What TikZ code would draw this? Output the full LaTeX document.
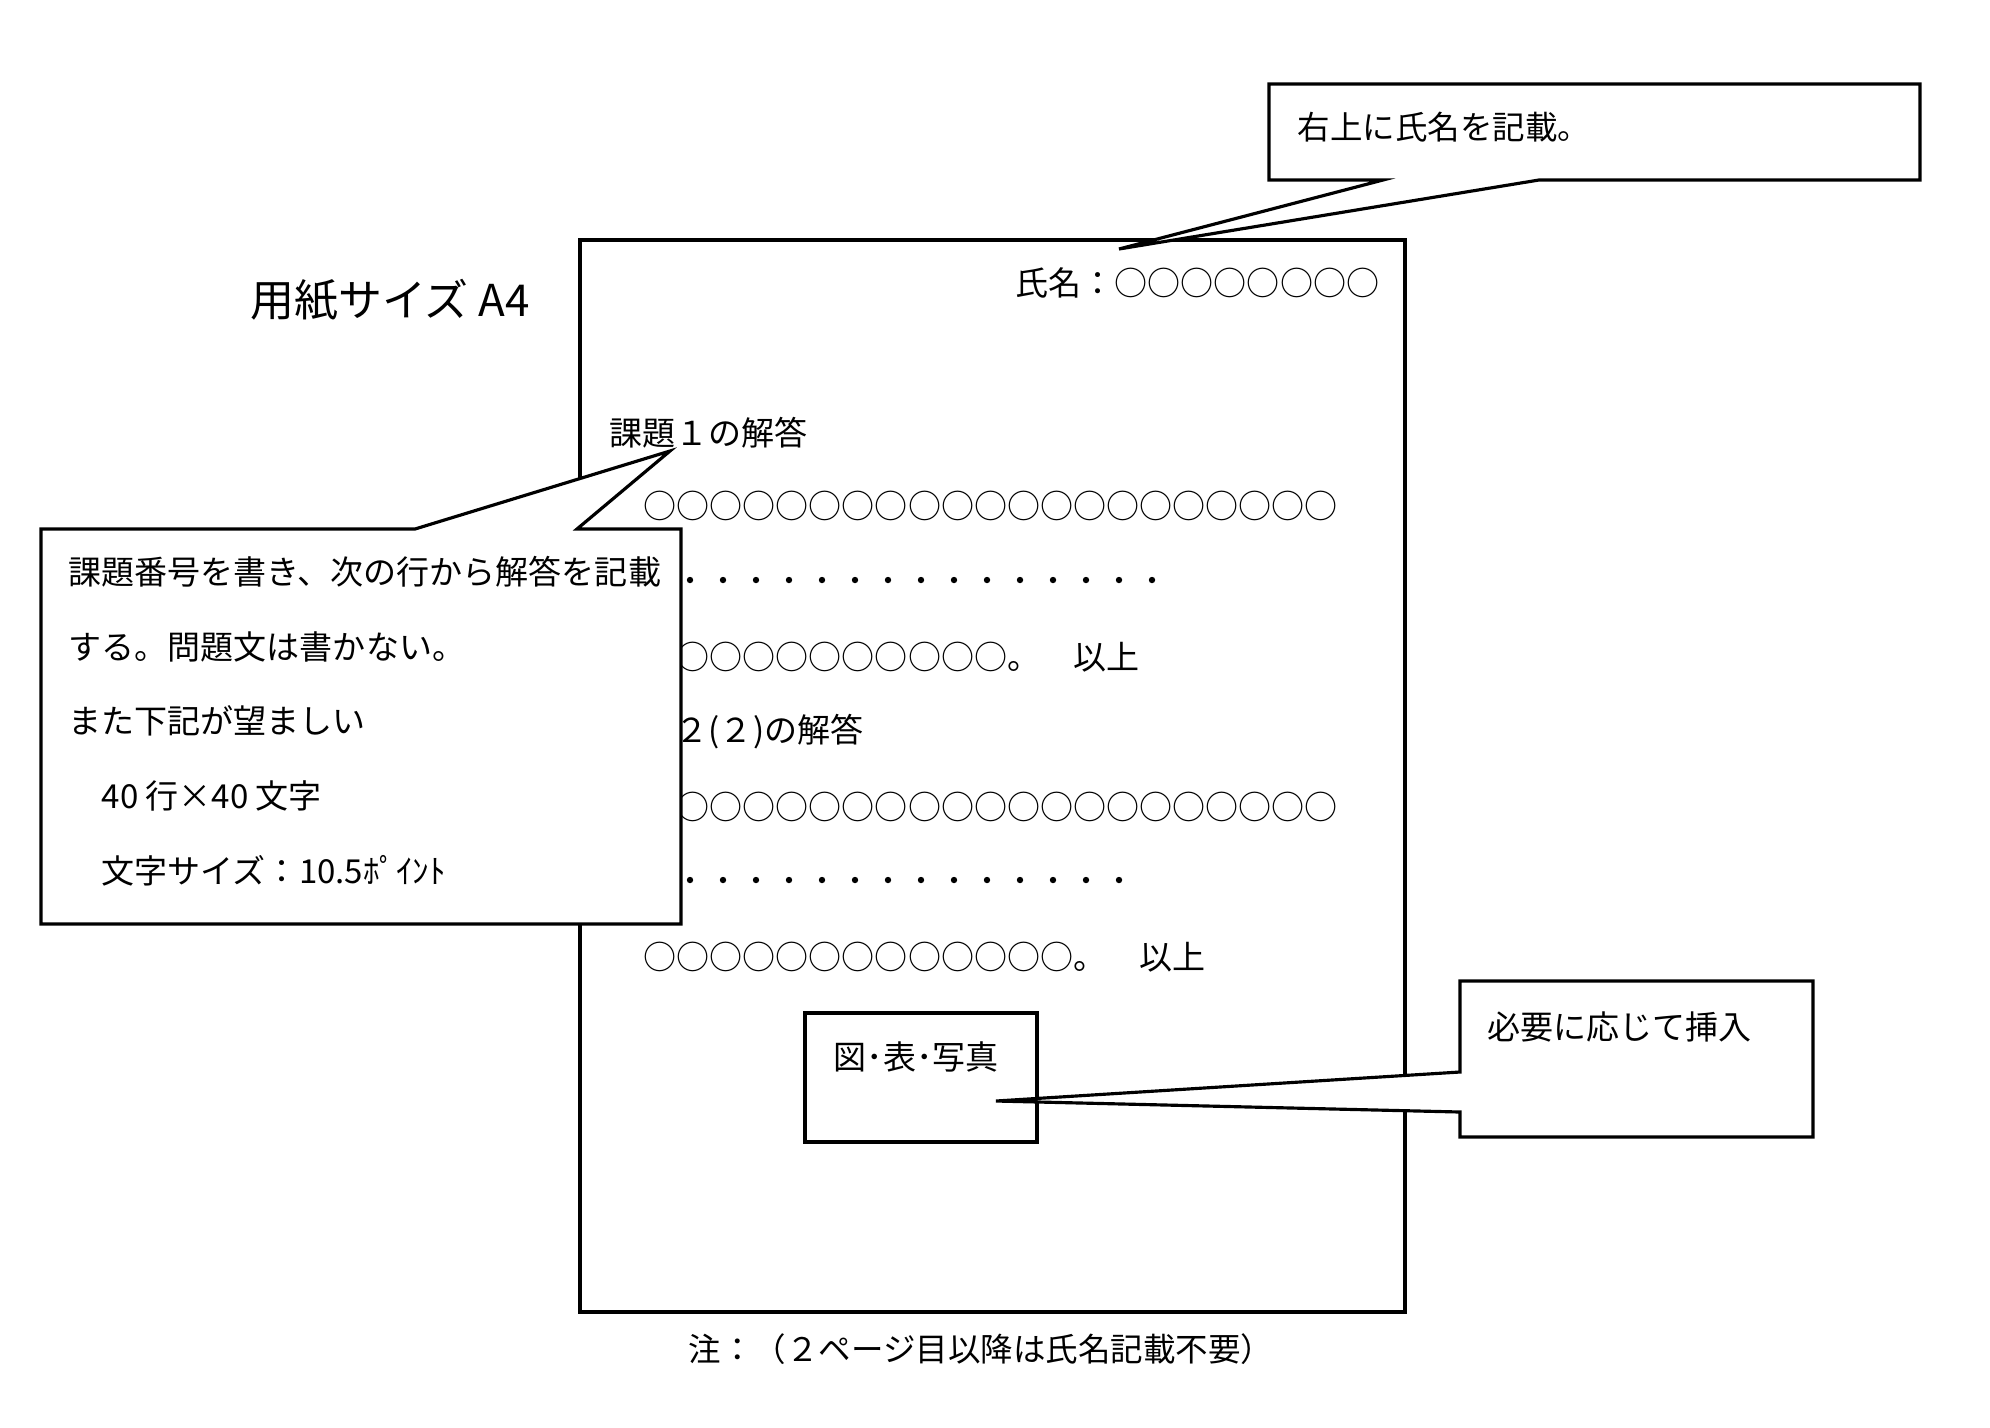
\documentclass[tikz,border=0pt]{standalone}
\usepackage{fontspec}
\usepackage{tikz}
\newfontfamily\jpfont{Noto Sans CJK JP}

\begin{document}
\begin{tikzpicture}[x=0.1mm,y=-0.1mm,
		txt/.style={inner sep=0pt,anchor=west,font=\jpfont\fontsize{9.4}{11}\selectfont},
		small/.style={txt,font=\jpfont\fontsize{9.25}{11}\selectfont},
		balloon/.style={draw,fill=white,line width=0.9pt,line join=miter}]
	\useasboundingbox (0,0) rectangle (1990,1427);
	% Define the page
	\draw[line width=1.1pt] (580,240) rectangle (1405,1312);
	\node[txt,anchor=center,font=\jpfont\fontsize{12.5}{14}\selectfont] (size) at (390,300) {用紙サイズ A4};
	\node[small,anchor=center] (note) at (981,1349) {注：（２ページ目以降は氏名記載不要）};
	% Add text to the page
	\node[txt] (name) at (1015,283) {氏名：○○○○○○○○};
	\node[txt] (q1) at (609,433) {課題１の解答};
	\node[txt] (a1) at (643,506) {○○○○○○○○○○○○○○○○○○○○○};
	\foreach \i in {0,...,15} \fill (657+33*\i,580) circle[radius=0.32mm];
	\node[txt] (a1end) at (643,657) {○○○○○○○○○○○。　以上};
	\node[txt] (q2) at (609,732) {課題２(２)の解答};
	\node[txt] (a2) at (643,807) {○○○○○○○○○○○○○○○○○○○○○};
	\foreach \i in {0,...,14} \fill (657+33*\i,880) circle[radius=0.32mm];
	\node[txt] (a2end) at (643,957) {○○○○○○○○○○○○○。　以上};
	% Figure box
	\draw[line width=1.25pt] (805,1013) rectangle (1037,1142);
	\node[txt] (fig) at (833,1057) {図･表･写真};
	% Create balloons
	\coordinate (tipname) at (1119,249);
	\draw[balloon] (1269,84) -- (1920,84) -- (1920,180) -- (1539,180) -- (tipname) -- (1383,180) -- (1269,180) -- cycle;
	\node[small] (hintname) at (1297,127) {右上に氏名を記載。};
	\coordinate (tipfig) at (996,1101);
	\draw[balloon] (1460,981) -- (1813,981) -- (1813,1137) -- (1460,1137) -- (1460,1112) -- (tipfig) -- (1460,1072) -- cycle;
	\node[txt] (hintfig) at (1487,1027) {必要に応じて挿入};
	\coordinate (tipq) at (670,451);
	\draw[balloon] (41,529) -- (415,529) -- (tipq) -- (577,529) -- (681,529) -- (681,924) -- (41,924) -- cycle;
	\node[txt] (rule1) at (68,572) {課題番号を書き、次の行から解答を記載};
	\node[txt] (rule2) at (68,647) {する。問題文は書かない。};
	\node[txt] (rule3) at (68,721) {また下記が望ましい};
	\node[txt] (rule4) at (68,796) {　40 行×40 文字};
	\node[txt] (rule5) at (68,871) {　文字サイズ：10.5ﾎﾟｲﾝﾄ};
\end{tikzpicture}
\end{document}
